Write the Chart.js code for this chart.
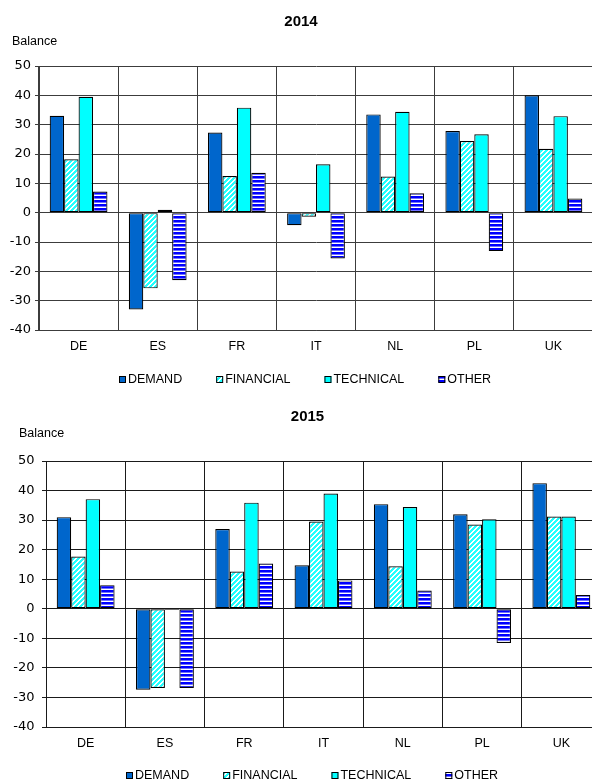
<!DOCTYPE html>
<html>
<head>
<meta charset="utf-8">
<script src="https://cdn.jsdelivr.net/npm/chart.js@4.4.1/dist/chart.umd.min.js"></script>
<style>
  html, body { margin: 0; padding: 0; background: #fff; overflow: hidden; }
  #wrap { position: relative; width: 592px; height: 780px; overflow: hidden; background: #fff; }
  canvas { position: absolute; left: 0; }
  #c2014 { top: 0; }
  #c2015 { top: 390px; }
</style>
</head>
<body>
<div id="wrap">
  <canvas id="c2014" width="600" height="390" style="width:600px;height:390px"></canvas>
  <canvas id="c2015" width="615" height="390" style="width:615px;height:390px"></canvas>
</div>
<script>
// Categories, series names and axis settings
const countries = ['DE', 'ES', 'FR', 'IT', 'NL', 'PL', 'UK'];
const seriesNames = ['DEMAND', 'FINANCIAL', 'TECHNICAL', 'OTHER'];
const axisTitle = 'Balance';
const yMin = -40;
const yMax = 50;
const yStep = 10;

// 2014 balances
const demand2014    = [33.0, -33.0, 27.3, -4.3, 33.5, 27.8, 40.0];
const financial2014 = [18.2, -25.8, 12.5, -1.4, 12.3, 24.4, 21.8];
const technical2014 = [39.5,   1.0, 35.8, 16.5, 34.4, 26.7, 32.9];
const other2014     = [ 7.2, -23.0, 13.6, -15.6, 6.6, -13.1, 4.8];

// 2015 balances
const demand2015    = [31.0, -27.4, 27.0, 14.7, 35.4, 32.0, 42.5];
const financial2015 = [17.7, -26.8, 12.6, 29.5, 14.4, 28.5, 31.2];
const technical2015 = [37.1,  -0.4, 35.9, 39.0, 34.4, 30.3, 31.2];
const other2015     = [ 8.0, -26.8, 15.3,  9.6,  6.2, -11.6, 4.7];

const SANS = '"Liberation Sans", Arial, Helvetica, sans-serif';
const WIDE = '"DejaVu Sans", Verdana, sans-serif';

// Fill patterns: white with cyan upward diagonals, blue with white horizontal stripes
function diagonalPattern() {
  const n = 5;
  const c = document.createElement('canvas');
  c.width = n; c.height = n;
  const g = c.getContext('2d');
  g.fillStyle = '#ffffff';
  g.fillRect(0, 0, n, n);
  g.fillStyle = '#22ffff';
  for (let y = 0; y < n; y++) {
    for (let x = 0; x < n; x++) {
      if ((x + y) % n < 3) g.fillRect(x, y, 1, 1);
    }
  }
  return g.createPattern(c, 'repeat');
}
function stripePattern() {
  const c = document.createElement('canvas');
  c.width = 4; c.height = 4;
  const g = c.getContext('2d');
  g.fillStyle = '#ffffff';
  g.fillRect(0, 0, 4, 4);
  g.fillStyle = '#0000ff';
  g.fillRect(0, 0, 4, 2);
  g.fillStyle = '#7070ff';
  g.fillRect(0, 2, 4, 1);
  return g.createPattern(c, 'repeat');
}
const fills = ['#0066cc', diagonalPattern(), '#00ffff', stripePattern()];

// Title, axis caption and legend drawn on top of each chart
const decor = {
  id: 'decor',
  afterDraw(chart, args, o) {
    const ctx = chart.ctx;
    ctx.save();
    ctx.fillStyle = '#000';
    ctx.textBaseline = 'middle';
    ctx.font = 'bold 15px ' + SANS;
    ctx.textAlign = 'center';
    ctx.fillText(o.title, o.titleX, o.titleY);
    ctx.font = '12.5px ' + SANS;
    ctx.textAlign = 'left';
    ctx.fillText(axisTitle, o.axisX, o.axisY);

    const box = 7, gapText = 2, gapItem = 34;
    const items = chart.data.datasets.map(d => ({ text: d.label, fill: d.backgroundColor }));
    const widths = items.map(it => box + gapText + ctx.measureText(it.text).width);
    const total = widths.reduce((a, b) => a + b, 0) + gapItem * (items.length - 1);
    let x = Math.round(o.legendX - total / 2);
    items.forEach((it, i) => {
      const by = Math.round(o.legendY - box / 2);
      ctx.fillStyle = it.fill;
      ctx.fillRect(x, by, box, box);
      ctx.strokeStyle = '#000';
      ctx.lineWidth = 1;
      ctx.strokeRect(x + 0.5, by + 0.5, box - 1, box - 1);
      ctx.fillStyle = '#000';
      ctx.fillText(it.text, x + box + gapText, o.legendY);
      x += widths[i] + gapItem;
    });
    ctx.restore();
  }
};

function makeChart(id, title, series, g) {
  return new Chart(document.getElementById(id), {
    type: 'bar',
    data: {
      labels: countries,
      datasets: series.map((vals, i) => ({
        label: seriesNames[i],
        data: vals,
        backgroundColor: fills[i],
        borderColor: '#000',
        borderWidth: 1.2,
        borderSkipped: false,
        categoryPercentage: 0.73,
        barPercentage: 1
      }))
    },
    options: {
      responsive: false,
      animation: false,
      devicePixelRatio: 1,
      layout: { autoPadding: false, padding: { left: 0, right: g.padRight, top: g.padTop, bottom: g.padBottom } },
      plugins: {
        legend: { display: false },
        title: { display: false },
        tooltip: { enabled: false },
        decor: { title: title, titleX: g.titleX, titleY: g.titleY, axisX: g.axisX, axisY: g.axisY, legendX: g.legendX, legendY: g.legendY }
      },
      scales: {
        x: {
          grid: { color: g.grid, lineWidth: 1, drawTicks: false, offset: true },
          border: { color: g.grid, width: 1 },
          ticks: { color: '#000', font: { family: SANS, size: 12.5 }, padding: 9 },
          afterFit(s) { s.height = 30; }
        },
        y: {
          min: yMin, max: yMax,
          grid: { color: g.grid, lineWidth: 1, tickLength: 4 },
          border: { color: g.grid, width: 1 },
          ticks: { stepSize: yStep, color: '#000', font: { family: WIDE, size: 13 }, padding: g.tickPad },
          afterFit(s) { s.width = g.axisW; }
        }
      }
    },
    plugins: [decor]
  });
}

makeChart('c2014', '2014', [demand2014, financial2014, technical2014, other2014], {
  padTop: 66, padBottom: 30, padRight: 7, axisW: 39, tickPad: 4, grid: '#3c3c3c',
  titleX: 301, titleY: 22, axisX: 12, axisY: 42, legendX: 305, legendY: 379.5
});
makeChart('c2015', '2015', [demand2015, financial2015, technical2015, other2015], {
  padTop: 71, padBottom: 23, padRight: 14, axisW: 46, tickPad: 7.5, grid: '#1a1a1a',
  titleX: 307.5, titleY: 26.5, axisX: 19, axisY: 44, legendX: 312.5, legendY: 385.5
});
</script>
</body>
</html>
